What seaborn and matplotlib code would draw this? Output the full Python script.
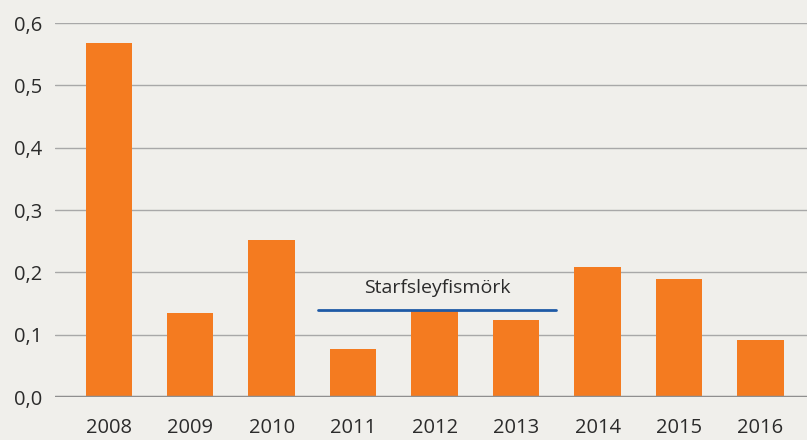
import matplotlib
matplotlib.use("Agg")
import matplotlib.pyplot as plt
import seaborn as sns
import pandas as pd

years = ["2008", "2009", "2010", "2011", "2012", "2013", "2014", "2015", "2016"]
values = [0.568, 0.134, 0.252, 0.077, 0.139, 0.123, 0.208, 0.190, 0.092]
limit_value = 0.14
limit_label = "Starfsleyfismörk"
limit_span = ["2011", "2013"]
y_ticks = [0.0, 0.1, 0.2, 0.3, 0.4, 0.5, 0.6]

bg = "#f0efeb"
orange = "#f47b20"

sns.set_style("white")
plt.rcParams["font.family"] = ["Open Sans", "DejaVu Sans"]

df = pd.DataFrame({"year": years, "value": values})

fig = plt.figure(figsize=(8.07, 4.40), dpi=100, facecolor=bg)
ax = fig.add_axes([55 / 807, 43 / 440, 752 / 807, 374 / 440])
ax.set_facecolor(bg)

for t in y_ticks[1:]:
    ax.axhline(t, color="#a8a8a8", lw=1.0, zorder=0)

sns.barplot(data=df, x="year", y="value", color=orange, saturation=1,
            width=0.57, linewidth=0, ax=ax, zorder=2)

ax.axhline(0, color="#8f8f8f", lw=2.5, zorder=3)

# limit line over 2011-2013
x0 = years.index(limit_span[0]) - 0.43
x1 = years.index(limit_span[1]) + 0.49
ax.plot([x0, x1], [limit_value, limit_value], color="#1f5aa6", lw=2, zorder=4)
ax.text((x0 + x1) / 2, limit_value + 0.02, limit_label, ha="center",
        va="bottom", fontsize=14, color="#2b2b2b")

ax.set_xlim(-0.66, 8.57)
ax.set_ylim(0, 0.6)
ax.set_yticks(y_ticks)
ax.set_yticklabels([f"{t:.1f}".replace(".", ",") for t in y_ticks])
ax.set_xlabel("")
ax.set_ylabel("")
ax.tick_params(axis="both", length=0, labelsize=14.5, colors="#2b2b2b")
ax.tick_params(axis="x", pad=15)
ax.tick_params(axis="y", pad=9)
for s in ax.spines.values():
    s.set_visible(False)

fig.savefig("out.png", dpi=100, facecolor=bg)
